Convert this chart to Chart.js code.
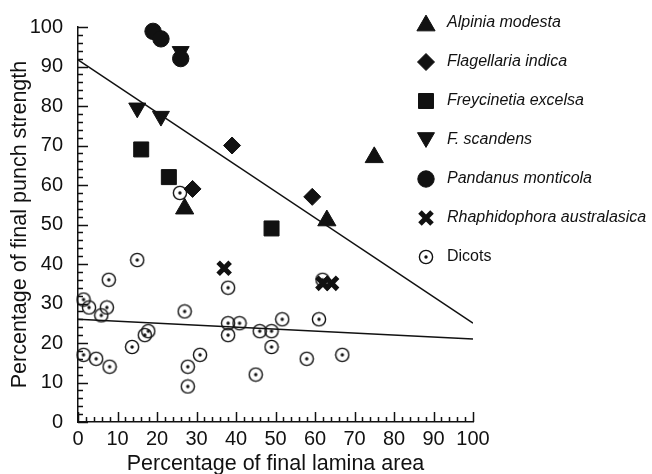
<!DOCTYPE html>
<html>
<head>
<meta charset="utf-8">
<script src="https://cdn.jsdelivr.net/npm/chart.js@4.4.1/dist/chart.umd.min.js"></script>
<style>
  html, body { margin: 0; padding: 0; background: #fff; }
  #wrap { width: 652px; height: 474px; }
</style>
</head>
<body>
<div id="wrap"><canvas id="myChart" width="652" height="474"></canvas></div>
<script>
// values: x = % of final lamina area, y = % of final punch strength
var alpiniaX = [27, 63, 75];
var alpiniaY = [54, 51, 67];
var flagellariaX = [29, 39, 59.3];
var flagellariaY = [59, 70, 57];
var freycinetiaX = [16, 23, 49];
var freycinetiaY = [69, 62, 49];
var scandensX = [15, 21, 26];
var scandensY = [79.5, 77.4, 93.8];
var pandanusX = [19, 21, 26];
var pandanusY = [98.9, 97, 92];
var rhaphidophoraX = [37, 62, 64.2];
var rhaphidophoraY = [38.9, 35.1, 35.1];
var dicotsX = [1.4, 2.8, 5.9, 7.3, 7.8, 15, 1.4, 4.6, 8, 13.7, 16.9, 17.8, 25.8, 27, 27.8, 27.8, 30.9, 38, 38, 38, 40.9, 45, 46, 49, 49, 51.7, 57.9, 61, 61.9, 66.9];
var dicotsY = [31, 29, 27, 29, 36, 41, 17, 16, 14, 19, 22, 23, 58, 28, 14, 9, 17, 34, 25, 22, 25, 12, 23, 23, 19, 26, 16, 26, 36, 17];

// regression lines (value at x = 0 and x = 100)
var lineX = [0, 100];
var monocotLineY = [91.7, 25];
var dicotLineY = [26, 21];

var tickValues = [0, 10, 20, 30, 40, 50, 60, 70, 80, 90, 100];
var minorStep = 2;

var ink = '#111';
var fontName = '"Liberation Sans", Arial, Helvetica, sans-serif';

function toPoints(xs, ys) {
  return xs.map(function(x, i) { return { x: x, y: ys[i] }; });
}

// open circle with a dot in the middle, used for the dicots
var dicotMark = document.createElement('canvas');
dicotMark.width = 16;
dicotMark.height = 16;
(function() {
  var c = dicotMark.getContext('2d');
  c.strokeStyle = ink;
  c.lineWidth = 1.4;
  c.beginPath();
  c.arc(8, 8, 6.6, 0, Math.PI * 2);
  c.stroke();
  c.fillStyle = ink;
  c.beginPath();
  c.arc(8, 8, 1.7, 0, Math.PI * 2);
  c.fill();
})();

function markSet(label, xs, ys, style, radius, extra) {
  var ds = {
    label: label,
    data: toPoints(xs, ys),
    pointStyle: style,
    pointRadius: radius,
    pointHoverRadius: radius,
    backgroundColor: ink,
    borderColor: ink,
    borderWidth: 1,
    showLine: false,
    clip: false
  };
  for (var k in extra) ds[k] = extra[k];
  return ds;
}

// inward major and minor ticks on both axes
var inwardTicks = {
  id: 'inwardTicks',
  afterDraw: function(chart) {
    var g = chart.ctx;
    var xs = chart.scales.x, ys = chart.scales.y;
    try {
      var left = xs.getPixelForValue(0);
      var bottom = ys.getPixelForValue(0);
      g.save();
      g.strokeStyle = ink;
      g.lineWidth = 1.5;
      for (var v = 0; v <= 100; v += minorStep) {
        var len = v % 10 === 0 ? 10 : 5;
        var px = Math.round(xs.getPixelForValue(v)) + 0.5;
        var py = Math.round(ys.getPixelForValue(v)) + 0.5;
        g.beginPath();
        g.moveTo(px, bottom);
        g.lineTo(px, bottom - len);
        g.moveTo(left, py);
        g.lineTo(left + len, py);
        g.stroke();
      }
      g.restore();
    } catch (e) {
      g.fillStyle = 'red';
      g.font = '12px sans-serif';
      g.fillText(String(e), 100, 300);
    }
  }
};

// legend column sitting inside the upper right of the plot
var legendBox = {
  id: 'legendBox',
  afterDraw: function(chart) {
    var g = chart.ctx;
    chart.data.datasets.forEach(function(ds) {
      if (ds.legendRow == null) return;
      var y = 23 + ds.legendRow * 39;
      g.save();
      g.fillStyle = ds.backgroundColor;
      g.strokeStyle = ds.borderColor;
      g.lineWidth = ds.borderWidth;
      Chart.helpers.drawPoint(g, {
        pointStyle: ds.pointStyle,
        rotation: ds.rotation || 0,
        radius: ds.pointRadius,
        borderWidth: ds.borderWidth
      }, 426, y + (ds.legendShift || 0));
      g.font = (ds.italic ? 'italic ' : '') + '16px ' + fontName;
      g.fillStyle = ink;
      g.textBaseline = 'middle';
      g.textAlign = 'left';
      g.fillText(ds.label, 447, y);
      g.restore();
    });
  }
};

var ctx = document.getElementById('myChart').getContext('2d');
var myChart = new Chart(ctx, {
  type: 'scatter',
  data: {
    datasets: [
      markSet('Pandanus monticola', pandanusX, pandanusY, 'circle', 8.2, { order: 0, legendRow: 4, italic: true }),
      markSet('F. scandens', scandensX, scandensY, 'triangle', 9.8, { order: 1, rotation: 180, legendRow: 3, italic: true, legendShift: -2.4 }),
      markSet('Alpinia modesta', alpiniaX, alpiniaY, 'triangle', 10.5, { order: 2, legendRow: 0, italic: true, legendShift: 2.6 }),
      markSet('Flagellaria indica', flagellariaX, flagellariaY, 'rectRot', 8.5, { order: 3, legendRow: 1, italic: true }),
      markSet('Freycinetia excelsa', freycinetiaX, freycinetiaY, 'rect', 10.6, { order: 4, legendRow: 2, italic: true }),
      markSet('Rhaphidophora australasica', rhaphidophoraX, rhaphidophoraY, 'crossRot', 8.5, { order: 5, borderWidth: 5, legendRow: 5, italic: true }),
      markSet('Dicots', dicotsX, dicotsY, dicotMark, 8, { order: 6, legendRow: 6, italic: false }),
      {
        label: 'monocot fit',
        data: toPoints(lineX, monocotLineY),
        showLine: true,
        pointRadius: 0,
        borderColor: ink,
        borderWidth: 1.5,
        order: 10
      },
      {
        label: 'dicot fit',
        data: toPoints(lineX, dicotLineY),
        showLine: true,
        pointRadius: 0,
        borderColor: ink,
        borderWidth: 1.5,
        order: 10
      }
    ]
  },
  options: {
    responsive: false,
    animation: false,
    events: [],
    layout: { padding: { top: 27, right: 179, left: 0, bottom: 0 } },
    plugins: {
      legend: { display: false },
      tooltip: { enabled: false }
    },
    scales: {
      x: {
        type: 'linear',
        min: 0,
        max: 100,
        grid: { display: false },
        border: { display: true, color: ink, width: 1.5 },
        afterBuildTicks: function(s) { s.ticks = tickValues.map(function(v) { return { value: v }; }); },
        afterFit: function(s) { s.height = 52; },
        ticks: { autoSkip: false, maxRotation: 0, padding: -3, color: ink, font: { family: fontName, size: 20 } },
        title: {
          display: true,
          text: 'Percentage of final lamina area',
          color: ink,
          font: { family: fontName, size: 21.5 },
          padding: { top: 0, bottom: -3 }
        }
      },
      y: {
        type: 'linear',
        min: 0,
        max: 100,
        grid: { display: false },
        border: { display: true, color: ink, width: 1.5 },
        afterBuildTicks: function(s) { s.ticks = tickValues.map(function(v) { return { value: v }; }); },
        afterFit: function(s) { s.width = 78; },
        ticks: { autoSkip: false, padding: 7, color: ink, font: { family: fontName, size: 20 } },
        title: {
          display: true,
          text: 'Percentage of final punch strength',
          color: ink,
          font: { family: fontName, size: 21.5 },
          padding: { top: 7, bottom: 0 }
        }
      }
    }
  },
  plugins: [inwardTicks, legendBox]
});
</script>
</body>
</html>
